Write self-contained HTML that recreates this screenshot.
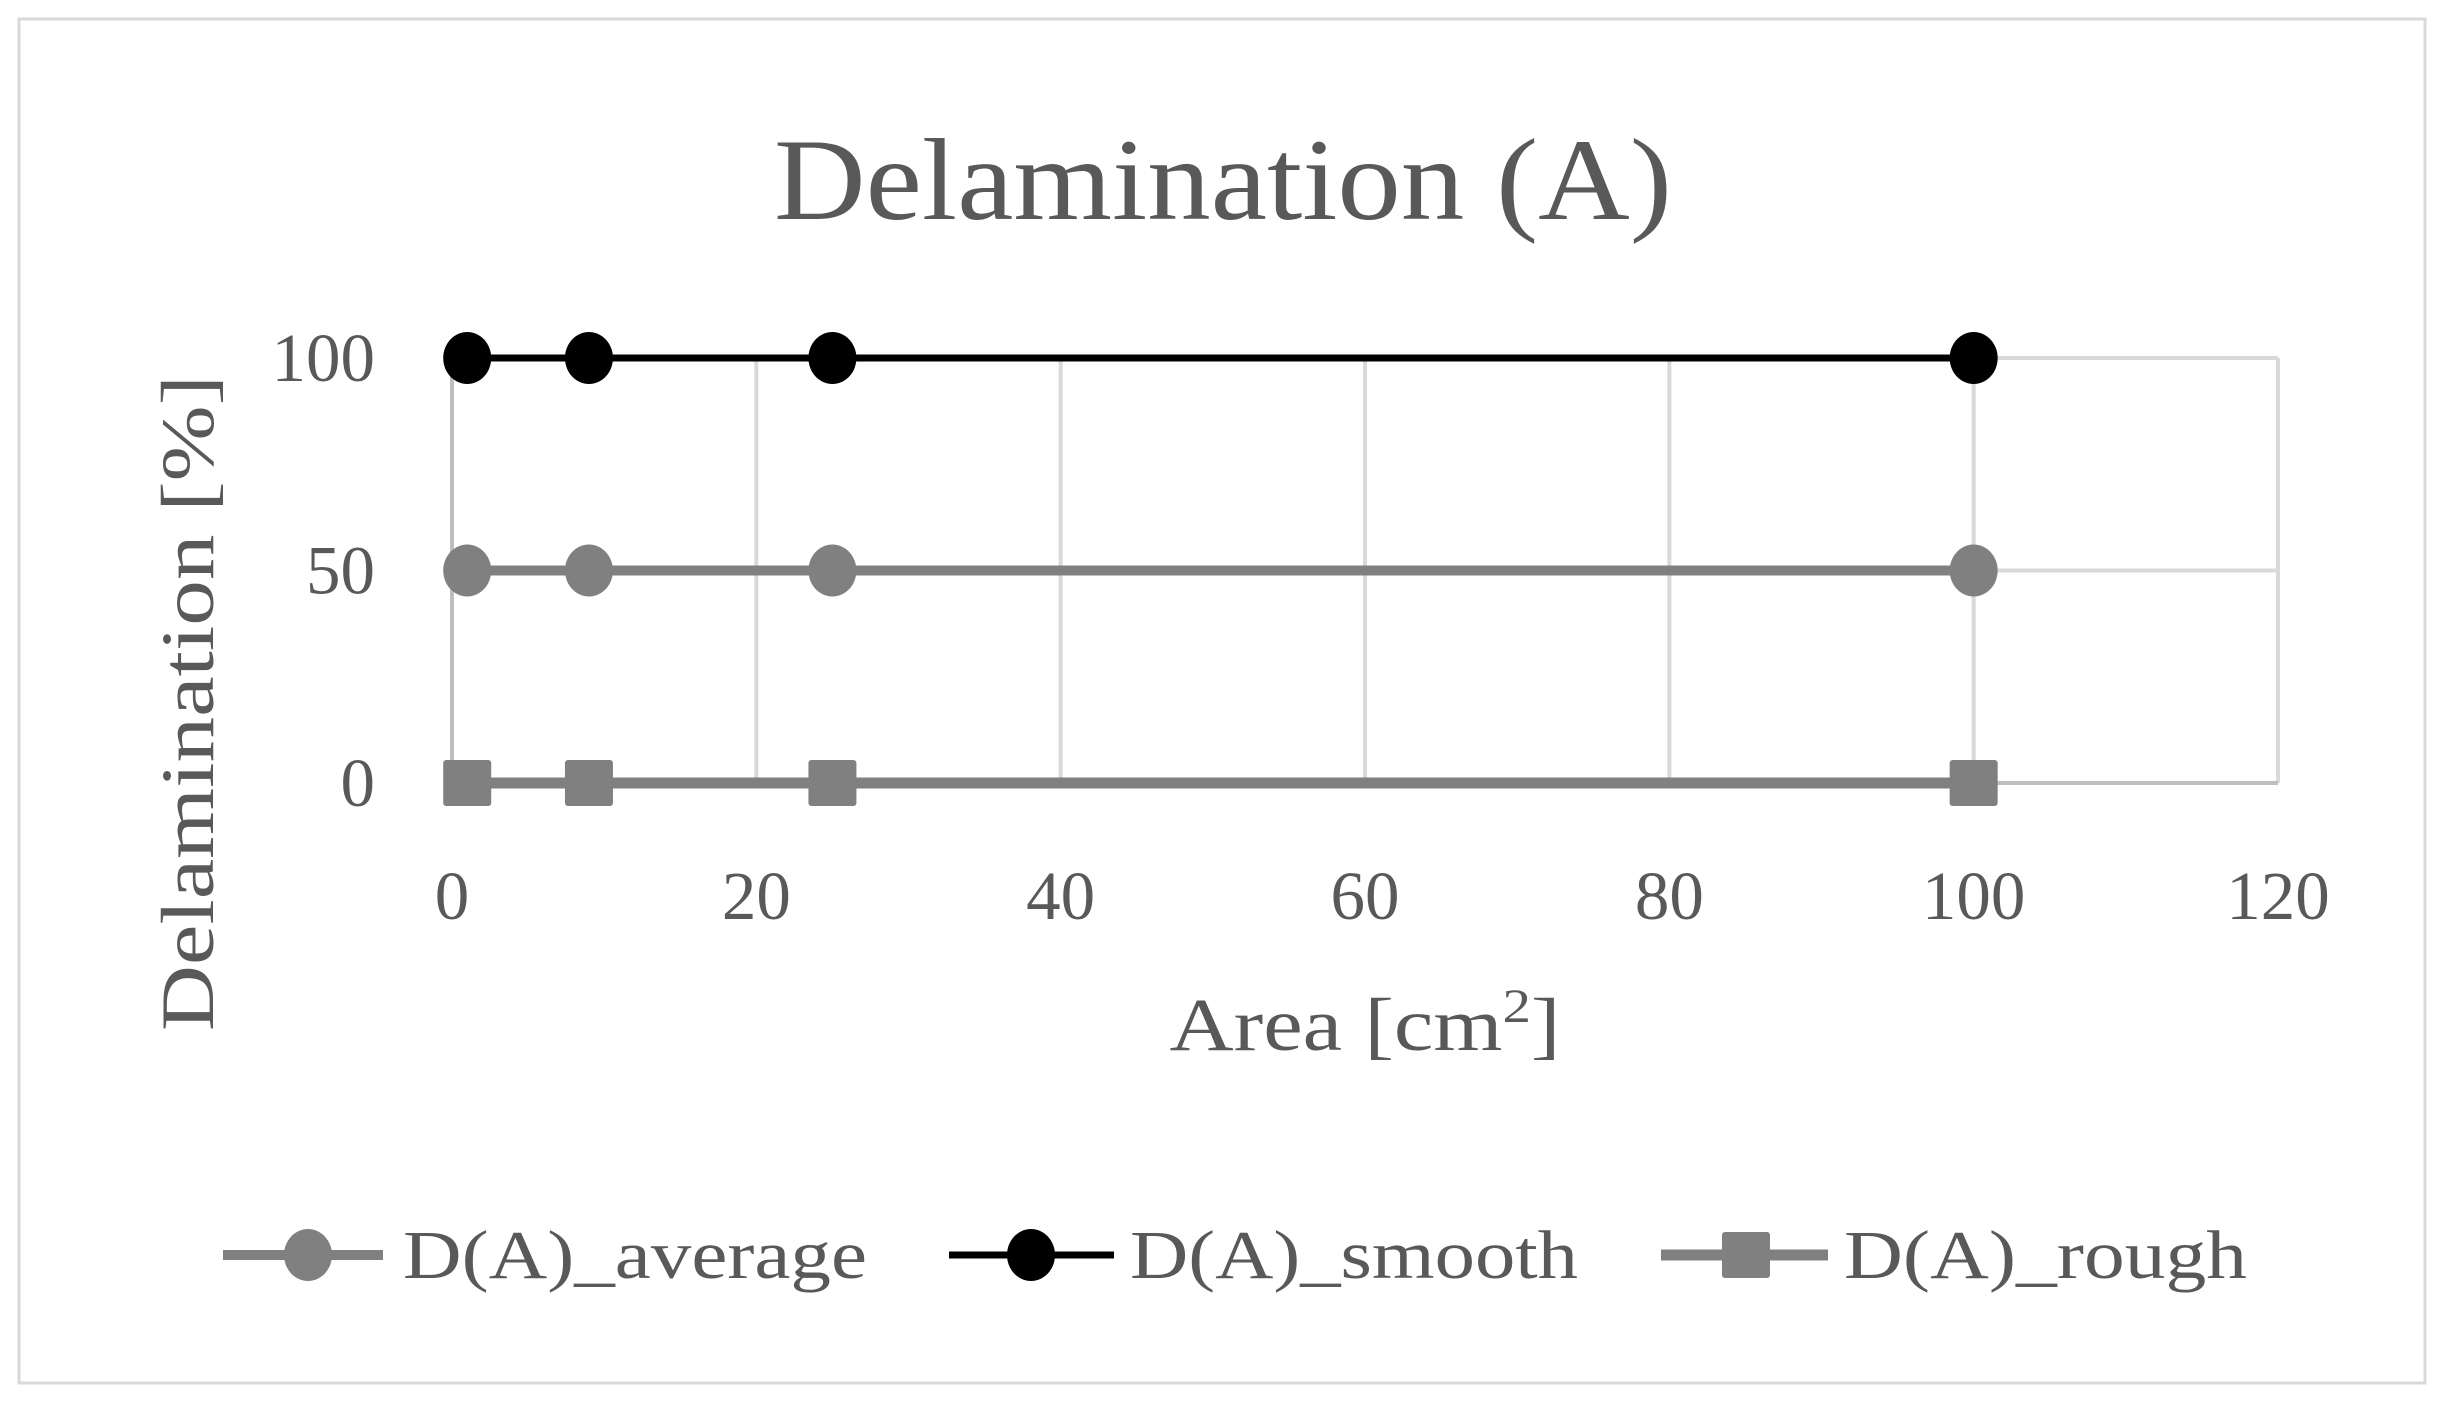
<!DOCTYPE html>
<html><head><meta charset="utf-8"><style>
html,body{margin:0;padding:0;background:#fff;}
svg{display:block;}
text{font-family:"Liberation Serif",serif;fill:#595959;}
</style></head><body>
<svg id="chart" width="2444" height="1411" viewBox="0 0 2444 1411" xmlns="http://www.w3.org/2000/svg">
<rect x="19" y="19" width="2406" height="1364" fill="#fff" stroke="#d9d9d9" stroke-width="3"/>
<text x="1223" y="219" font-size="117" text-anchor="middle" textLength="898" lengthAdjust="spacingAndGlyphs">Delamination (A)</text>
<g id="grid"></g>
<g id="series"></g>
<g id="ticks"></g>
<text x="1365" y="1050" font-size="75" text-anchor="middle" textLength="391" lengthAdjust="spacingAndGlyphs">Area [cm<tspan font-size="48" dy="-28">2</tspan><tspan dy="28">]</tspan></text>
<text transform="translate(213,703) rotate(-90)" font-size="75" text-anchor="middle" textLength="656" lengthAdjust="spacingAndGlyphs">Delamination [%]</text>
<g id="legend"></g>
</svg>
<script>
const xValues = [1, 9, 25, 100];
const averageValues = [50, 50, 50, 50];
const smoothValues = [100, 100, 100, 100];
const roughValues = [0, 0, 0, 0];
const xTicks = [0, 20, 40, 60, 80, 100, 120];
const yTicks = [0, 50, 100];

const NS = "http://www.w3.org/2000/svg";
const X0 = 452, X1 = 2278, Y0 = 783, Y1 = 358;
function xs(v){ return X0 + (v - 0) / 120 * (X1 - X0); }
function ys(v){ return Y0 - (v - 0) / 100 * (Y0 - Y1); }
function mk(tag, attrs, parent){
  const e = document.createElementNS(NS, tag);
  for (const k in attrs) e.setAttribute(k, attrs[k]);
  parent.appendChild(e);
  return e;
}
const grid = document.getElementById('grid');
const ticks = document.getElementById('ticks');
xTicks.forEach(t => {
  const l = mk('line', {x1: xs(t), x2: xs(t), y1: ys(100), y2: ys(0), stroke: t === 0 ? '#bfbfbf' : '#d9d9d9', 'stroke-width': 4}, grid);
  
  
  const tx = mk('text', {x: xs(t), y: 919, 'font-size': 69, 'text-anchor': 'middle'}, ticks);
  tx.textContent = t;
  
  
});
yTicks.forEach(t => {
  const l = mk('line', {x1: xs(0), x2: xs(120), y1: ys(t), y2: ys(t), stroke: t === 0 ? '#bfbfbf' : '#d9d9d9', 'stroke-width': 4}, grid);
  
  
  const tx = mk('text', {x: 375, y: ys(t) + 23, 'font-size': 69, 'text-anchor': 'end'}, ticks);
  tx.textContent = t;
  
  
});
const series = document.getElementById('series');
function drawSeries(vals, color, width, shape, name){
  const g = mk('g', {}, series);
  
  
  const pts = xValues.map((x, i) => xs(x) + ',' + ys(vals[i])).join(' ');
  mk('polyline', {points: pts, fill: 'none', stroke: color, 'stroke-width': width}, g);
  xValues.forEach((x, i) => {
    let m;
    if (shape === 'circle') m = mk('ellipse', {cx: xs(x), cy: ys(vals[i]), rx: 24, ry: 26, fill: color}, g);
    else m = mk('rect', {x: xs(x) - 24, y: ys(vals[i]) - 23, width: 48, height: 46, rx: 3, fill: color}, g);
    
    
  });
}
drawSeries(roughValues, '#808080', 11, 'square', 'series-rough');
drawSeries(averageValues, '#808080', 10, 'circle', 'series-average');
drawSeries(smoothValues, '#000000', 7, 'circle', 'series-smooth');

const legend = document.getElementById('legend');
const legendItems = [
  {label: 'D(A)_average', color: '#808080', w: 10, shape: 'circle', lx1: 223, lx2: 383, mx: 308, tx: 403, tw: 464},
  {label: 'D(A)_smooth', color: '#000000', w: 7, shape: 'circle', lx1: 949, lx2: 1114, mx: 1031, tx: 1130, tw: 448},
  {label: 'D(A)_rough', color: '#808080', w: 11, shape: 'square', lx1: 1661, lx2: 1828, mx: 1746, tx: 1844, tw: 403}
];
legendItems.forEach(it => {
  const g = mk('g', {}, legend);
  
  
  mk('line', {x1: it.lx1, x2: it.lx2, y1: 1255, y2: 1255, stroke: it.color, 'stroke-width': it.w}, g);
  if (it.shape === 'circle') mk('ellipse', {cx: it.mx, cy: 1255, rx: 24, ry: 26, fill: it.color}, g);
  else mk('rect', {x: it.mx - 24, y: 1232, width: 48, height: 46, rx: 3, fill: it.color}, g);
  const t = mk('text', {x: it.tx, y: 1278, 'font-size': 69, textLength: it.tw, lengthAdjust: 'spacingAndGlyphs'}, g);
  t.textContent = it.label;
});
</script>
</body></html>
